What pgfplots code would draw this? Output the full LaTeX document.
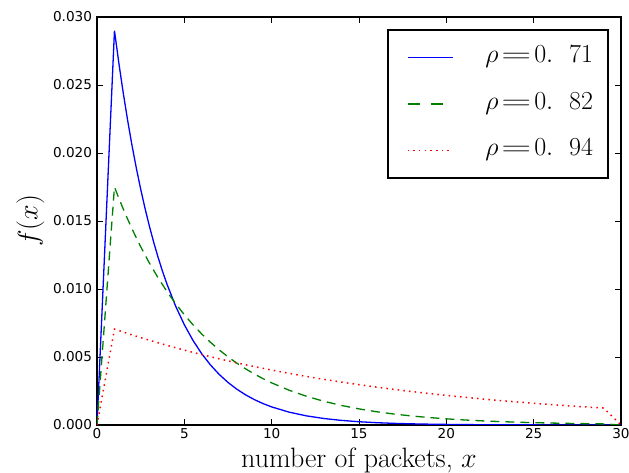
\RequirePackage{fix-cm}
\documentclass[border=0pt]{standalone}
\usepackage{fontspec}
\usepackage{graphicx}
\usepackage{pgfplots}
\pgfplotsset{compat=1.18}
\newfontfamily\dejavu{DejaVu Sans}
\newcommand{\rholab}[1]{$\rho\mkern2mu\scalebox{1.6}[1]{$=$}\mkern2mu0.\mkern11mu#1$\kern-4pt}

\begin{document}
\begin{tikzpicture}
\begin{axis}[
  scale only axis,
  width=524pt, height=408pt,
  xmin=0, xmax=30, ymin=0, ymax=0.030,
  xtick={0,5,10,15,20,25,30},
  ytick={0,0.005,0.010,0.015,0.020,0.025,0.030},
  tick align=inside,
  major tick length=6pt,
  tick style={line width=0.6pt, black},
  axis line style={line width=1.3pt},
  /pgf/number format/assume math mode=true,
  ticklabel style={font=\dejavu\fontsize{13.6}{16}\selectfont},
  xticklabel style={/pgf/number format/fixed, /pgf/number format/precision=0},
  yticklabel style={xshift=-1.5pt, /pgf/number format/fixed, /pgf/number format/fixed zerofill, /pgf/number format/precision=3},
  scaled y ticks=false,
  scaled x ticks=false,
  xlabel={number of packets, $x$},
  xlabel style={font=\fontsize{28}{32}\selectfont, at={(axis description cs:0.5,-0.088)}, anchor=center},
  ylabel={$f(x)$},
  ylabel style={font=\fontsize{28}{32}\selectfont, at={(axis description cs:-0.127,0.5)}, anchor=center},
  legend style={at={(1,1)}, anchor=north east, xshift=-12pt, yshift=-12pt,
    draw=black, line width=2pt, font=\fontsize{26}{30}\selectfont,
    inner xsep=19pt, inner ysep=15pt, row sep=21.5pt,
    nodes={inner sep=0pt, text height=18pt, text depth=7pt},
    /tikz/every odd column/.append style={column sep=32pt}},
  legend cell align=left,
  legend image code/.code={\draw[#1] (0pt,0pt) -- (45pt,0pt);},
]
\addlegendimage{legend image code/.code={\draw[draw=blue, line width=1.8pt] (0pt,0pt) -- (45pt,0pt);}}
\addlegendentry{\rholab{71}}
\addlegendimage{color=green!50!black, line width=1.6pt, dash pattern=on 12pt off 11pt}
\addlegendentry{\rholab{82}}
\addlegendimage{color=red, line width=1.6pt, dash pattern=on 1.5pt off 4.2pt}
\addlegendentry{\rholab{94}}
\addplot[color=blue, line width=1.3pt, forget plot] coordinates {
(0,0) (1,0.029000) (1.25,0.026620) (1.5,0.024436) (1.75,0.022430)
(2,0.020590) (2.25,0.018900) (2.5,0.017349) (2.75,0.015926)
(3,0.014619) (3.25,0.013419) (3.5,0.012318) (3.75,0.011307)
(4,0.010379) (4.5,0.008746) (5,0.007369) (5.5,0.006210)
(6,0.005232) (6.5,0.004409) (7,0.003715) (7.5,0.003130)
(8,0.002638) (8.5,0.002222) (9,0.001873) (9.5,0.001578) (10,0.001330)
(11,0.000944) (12,0.000670) (13,0.000476) (14,0.000338) (15,0.000240)
(16,0.000170) (17,0.000121) (18,0.0000859) (19,0.0000610) (20,0.0000433)
(21,0.0000307) (22,0.0000218) (23,0.0000155) (24,0.0000110) (25,0.0000078)
(26,0.0000055) (27,0.0000039) (28,0.0000028) (29,0.0000020) (30,0)
};
\addplot[color=green!50!black, line width=1.3pt, dash pattern=on 9pt off 6pt, forget plot] coordinates {
(0,0) (1,0.017500) (1.25,0.016678) (1.5,0.015895) (1.75,0.015149)
(2,0.014438) (2.25,0.013760) (2.5,0.013114) (2.75,0.012498)
(3,0.011911) (3.5,0.010819) (4,0.009827) (4.5,0.008925)
(5,0.008107) (5.5,0.007363) (6,0.006688) (6.5,0.006075)
(7,0.005518) (7.5,0.005012) (8,0.004552) (8.5,0.004135)
(9,0.003756) (9.5,0.003411) (10,0.003098)
(11,0.002556) (12,0.002109) (13,0.001740) (14,0.001435) (15,0.001184)
(16,0.000977) (17,0.000806) (18,0.000665) (19,0.000549) (20,0.000453)
(21,0.000373) (22,0.000308) (23,0.000254) (24,0.000210) (25,0.000173)
(26,0.000143) (27,0.000118) (28,0.0000971) (29,0.0000801) (30,0)
};
\addplot[color=red, line width=1.5pt, dash pattern=on 1.5pt off 4.2pt, forget plot] coordinates {
(0,0) (1,0.007050) (2,0.006627) (3,0.006229) (4,0.005856) (5,0.005504)
(6,0.005174) (7,0.004864) (8,0.004572) (9,0.004297) (10,0.004040)
(11,0.003797) (12,0.003569) (13,0.003355) (14,0.003154) (15,0.002965)
(16,0.002787) (17,0.002620) (18,0.002462) (19,0.002315) (20,0.002176)
(21,0.002045) (22,0.001923) (23,0.001807) (24,0.001699) (25,0.001597)
(26,0.001501) (27,0.001411) (28,0.001326) (29,0.001247) (30,0)
};
\end{axis}
\pgfresetboundingbox
\path[use as bounding box] ([shift={(-97pt,-48pt)}]current axis.south west) rectangle ([shift={(8pt,17pt)}]current axis.north east);
\end{tikzpicture}
\end{document}
